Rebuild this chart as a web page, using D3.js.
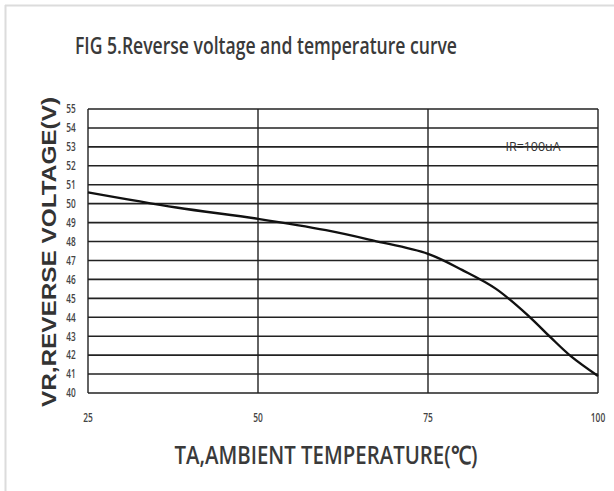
<!DOCTYPE html>
<html>
<head>
<meta charset="utf-8">
<script src="https://cdn.jsdelivr.net/npm/d3@7"></script>
<style>
  html, body { margin: 0; padding: 0; background: #fff; }
</style>
</head>
<body>
<div id="chart"></div>
<script>
// temperature (C) and reverse voltage (V)
const temps = [25, 38, 50, 60, 67, 75, 80, 85, 90, 93, 96, 100];
const volts = [50.6, 49.8, 49.2, 48.6, 48.05, 47.35, 46.5, 45.5, 44.0, 42.95, 41.95, 40.9];
const xTicks = [25, 50, 75, 100];
const yTicks = d3.range(40, 56);

const width = 614;
const height = 491;
const margin = { top: 109, right: 16, bottom: 98, left: 88 };

const svg = d3.select('#chart')
    .append('svg')
    .attr('width', width)
    .attr('height', height);

// light frame at top and left edges
svg.append('line').attr('x1', 5).attr('x2', width).attr('y1', 5.5).attr('y2', 5.5)
    .attr('stroke', '#dcdcdc').attr('stroke-width', 2);
svg.append('line').attr('x1', 5.5).attr('x2', 5.5).attr('y1', 5).attr('y2', height)
    .attr('stroke', '#dcdcdc').attr('stroke-width', 2);

const x = d3.scaleLinear()
    .domain([25, 100])
    .range([margin.left, width - margin.right]);

const y = d3.scaleLinear()
    .domain([40, 55])
    .range([height - margin.bottom, margin.top]);

// horizontal grid
svg.append('g')
    .selectAll('line')
    .data(yTicks)
    .enter().append('line')
    .attr('x1', x(25))
    .attr('x2', x(100))
    .attr('y1', d => y(d))
    .attr('y2', d => y(d))
    .attr('stroke', '#222')
    .attr('stroke-width', 1.6);

// vertical grid
svg.append('g')
    .selectAll('line')
    .data(xTicks)
    .enter().append('line')
    .attr('x1', d => x(d))
    .attr('x2', d => x(d))
    .attr('y1', y(55))
    .attr('y2', y(40))
    .attr('stroke', '#222')
    .attr('stroke-width', 1.4);

const pts = temps.map((t, i) => [t, volts[i]]);

svg.append('path')
    .datum(pts)
    .attr('fill', 'none')
    .attr('stroke', '#111')
    .attr('stroke-width', 2.4)
    .attr('d', d3.line()
        .x(d => x(d[0]))
        .y(d => y(d[1]))
        .curve(d3.curveCatmullRom.alpha(0.5)));

// y tick labels
svg.append('g')
    .selectAll('text')
    .data(yTicks)
    .enter().append('text')
    .attr('x', 71)
    .attr('y', d => y(d))
    .attr('dy', '0.35em')
    .attr('text-anchor', 'middle')
    .attr('font-family', 'Open Sans, sans-serif')
    .attr('font-weight', 600)
    .attr('font-size', 12.5)
    .attr('transform', d => `translate(71,${y(d)}) scale(0.66,1) translate(-71,${-y(d)})`)
    .attr('fill', '#444')
    .text(d => d);

// x tick labels
svg.append('g')
    .selectAll('text')
    .data(xTicks)
    .enter().append('text')
    .attr('x', d => x(d))
    .attr('y', 418)
    .attr('dy', '0.35em')
    .attr('text-anchor', 'middle')
    .attr('font-family', 'Open Sans, sans-serif')
    .attr('font-weight', 600)
    .attr('font-size', 12)
    .attr('transform', d => `translate(${x(d)},418) scale(0.7,1) translate(${-x(d)},-418)`)
    .attr('fill', '#444')
    .text(d => d);

// title
svg.append('text')
    .attr('x', 266)
    .attr('y', 54)
    .attr('text-anchor', 'middle')
    .attr('font-family', 'Open Sans, sans-serif')
    .attr('font-weight', 600)
    .attr('font-size', 24)
    .attr('fill', '#3a3a3a')
    .attr('textLength', 382)
    .attr('lengthAdjust', 'spacingAndGlyphs')
    .text('FIG 5.Reverse voltage and temperature curve');

// x axis title
svg.append('text')
    .attr('x', 326)
    .attr('y', 464)
    .attr('text-anchor', 'middle')
    .attr('font-family', 'Open Sans, sans-serif')
    .attr('font-weight', 600)
    .attr('font-size', 25)
    .attr('fill', '#3a3a3a')
    .attr('textLength', 303)
    .attr('lengthAdjust', 'spacingAndGlyphs')
    .text('TA,AMBIENT TEMPERATURE(℃)');

// y axis title
svg.append('text')
    .attr('transform', 'translate(56,252) rotate(-90)')
    .attr('text-anchor', 'middle')
    .attr('font-family', 'Liberation Sans, Arial, sans-serif')
    .attr('font-weight', 'bold')
    .attr('font-size', 21)
    .attr('fill', '#333')
    .attr('textLength', 310)
    .attr('lengthAdjust', 'spacingAndGlyphs')
    .text('VR,REVERSE VOLTAGE(V)');

// condition note
svg.append('text')
    .attr('x', 533)
    .attr('y', y(53))
    .attr('dy', '0.35em')
    .attr('text-anchor', 'middle')
    .attr('font-family', 'Open Sans, sans-serif')
    .attr('font-size', 13)
    .attr('fill', '#333')
    .attr('textLength', 55)
    .attr('lengthAdjust', 'spacingAndGlyphs')
    .text('IR=100uA');
</script>
</body>
</html>
